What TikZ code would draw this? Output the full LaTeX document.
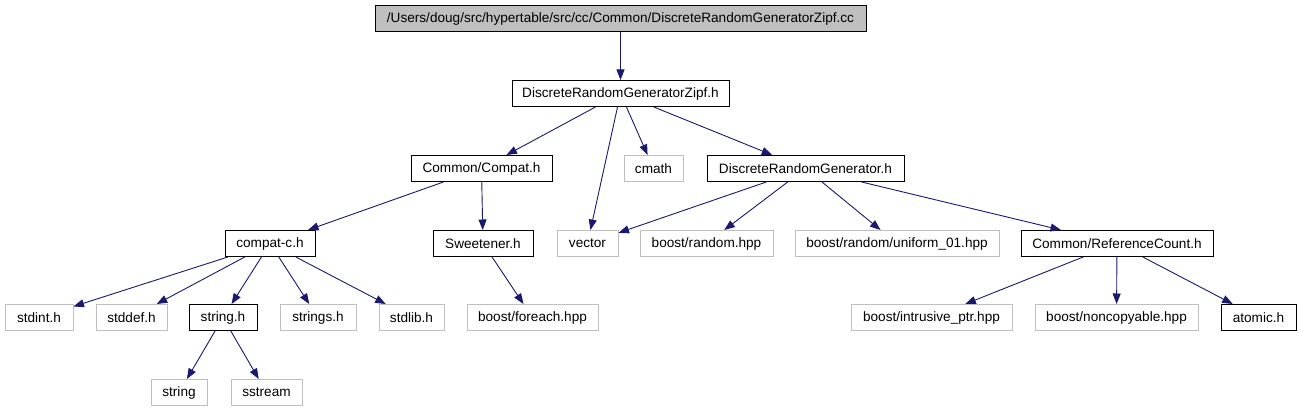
\documentclass[tikz,border=0pt]{standalone}
\usepackage{fontspec}
\setmainfont{Liberation Sans}
\usetikzlibrary{arrows.meta}
\definecolor{edgeblue}{HTML}{191970}
\definecolor{lightgray}{HTML}{BFBFBF}
\tikzset{
  box/.style={draw=black, line width=1pt, minimum height=26pt, inner sep=0pt, font=\fontsize{13.6}{16}\selectfont, text=black},
  gbox/.style={box, draw=lightgray},
  topbox/.style={box, fill=lightgray},
  dep/.style={draw=edgeblue, line width=0.9pt, -{Triangle[length=10.5pt,width=8pt]}}
}
\begin{document}
\begin{tikzpicture}[x=1pt,y=-1pt]
\useasboundingbox (0,0) rectangle (1301,411);
% row 0
\node[topbox, minimum width=491pt] (top) at (620.5,19) {/Users/doug/src/hypertable/src/cc/Common/DiscreteRandomGeneratorZipf.cc};
% row 1
\node[box, minimum width=217pt] (zipf) at (620.5,93.5) {DiscreteRandomGeneratorZipf.h};
% row 2
\node[box, minimum width=141pt] (compat) at (481.5,168.5) {Common/Compat.h};
\node[gbox, minimum width=59pt] (cmath) at (653.5,168.5) {cmath};
\node[box, minimum width=197pt] (drg) at (805.5,168.5) {DiscreteRandomGenerator.h};
% row 3
\node[box, minimum width=90pt] (compatc) at (270,243.5) {compat-c.h};
\node[box, minimum width=100pt] (sweet) at (483,243.5) {Sweetener.h};
\node[gbox, minimum width=61pt] (vector) at (587.5,243.5) {vector};
\node[gbox, minimum width=133pt] (brandom) at (706.5,243.5) {boost/random.hpp};
\node[gbox, minimum width=204pt] (uniform) at (897,243.5) {boost/random/uniform\_01.hpp};
\node[box, minimum width=192pt] (refcount) at (1117,243.5) {Common/ReferenceCount.h};
% row 4
\node[gbox, minimum width=68pt] (stdint) at (39,317.5) {stdint.h};
\node[gbox, minimum width=71pt] (stddef) at (131.5,317.5) {stddef.h};
\node[box, minimum width=68pt] (stringh) at (223,317.5) {string.h};
\node[gbox, minimum width=76pt] (strings) at (318,317.5) {strings.h};
\node[gbox, minimum width=65pt] (stdlib) at (411.5,317.5) {stdlib.h};
\node[gbox, minimum width=131pt] (foreach) at (532.5,317.5) {boost/foreach.hpp};
\node[gbox, minimum width=161pt] (intrusive) at (931.5,317.5) {boost/intrusive\_ptr.hpp};
\node[gbox, minimum width=163pt] (noncopy) at (1116.5,317.5) {boost/noncopyable.hpp};
\node[box, minimum width=75pt] (atomic) at (1258.5,317.5) {atomic.h};
% row 5
\node[gbox, minimum width=56pt] (string) at (179,392.5) {string};
\node[gbox, minimum width=71pt] (sstream) at (266.5,392.5) {sstream};
% edges
\draw[dep] (top) -- (zipf);
\draw[dep] (zipf) -- (compat);
\draw[dep] (zipf) -- (vector);
\draw[dep] (zipf) -- (cmath);
\draw[dep] (zipf) -- (drg);
\draw[dep] (compat) -- (compatc);
\draw[dep] (compat) -- (sweet);
\draw[dep] (drg) -- (vector);
\draw[dep] (drg) -- (brandom);
\draw[dep] (drg) -- (uniform);
\draw[dep] (drg) -- (refcount);
\draw[dep] (compatc) -- (stdint);
\draw[dep] (compatc) -- (stddef);
\draw[dep] (compatc) -- (stringh);
\draw[dep] (compatc) -- (strings);
\draw[dep] (compatc) -- (stdlib);
\draw[dep] (sweet) -- (foreach);
\draw[dep] (stringh) -- (string);
\draw[dep] (stringh) -- (sstream);
\draw[dep] (refcount) -- (intrusive);
\draw[dep] (refcount) -- (noncopy);
\draw[dep] (refcount) -- (atomic);
\end{tikzpicture}
\end{document}
